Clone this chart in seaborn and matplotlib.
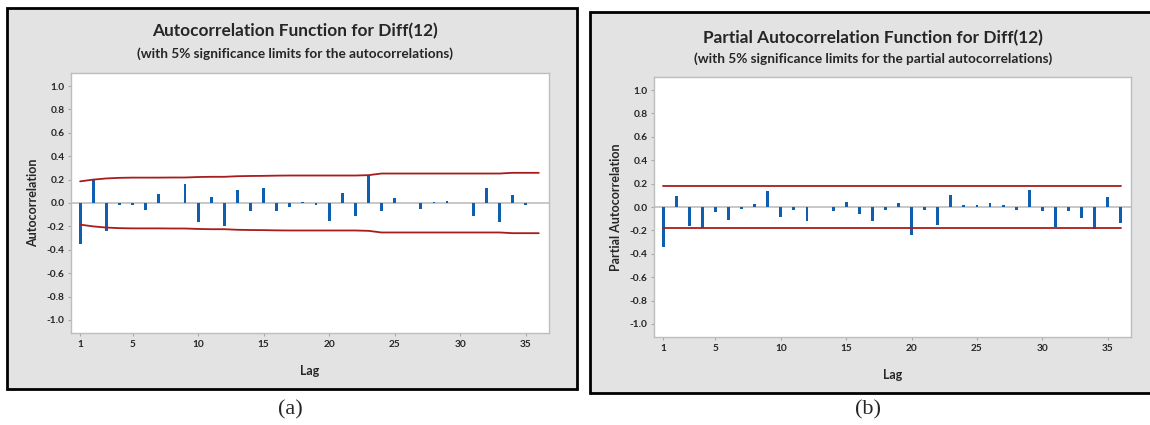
import matplotlib
matplotlib.use("Agg")
import matplotlib.pyplot as plt
from matplotlib.patches import Rectangle
import pandas as pd
import seaborn as sns

lags = list(range(1, 37))
acf = [-0.35, 0.20, -0.24, -0.02, -0.02, -0.06, 0.08, 0.0, 0.16, -0.16,
       0.055, -0.195, 0.115, -0.07, 0.125, -0.07, -0.03, 0.012, -0.02, -0.15,
       0.085, -0.115, 0.24, -0.065, 0.045, 0.0, -0.05, 0.012, 0.02, 0.0,
       -0.115, 0.13, -0.16, 0.065, -0.02, 0.0]
acf_limit = [0.185, 0.20, 0.21, 0.215, 0.217, 0.217, 0.217, 0.218, 0.218, 0.222,
             0.224, 0.224, 0.229, 0.231, 0.232, 0.234, 0.235, 0.235, 0.235, 0.235,
             0.235, 0.235, 0.238, 0.252, 0.252, 0.252, 0.252, 0.252, 0.252, 0.252,
             0.252, 0.252, 0.252, 0.258, 0.258, 0.258]
pacf = [-0.34, 0.09, -0.16, -0.177, -0.045, -0.11, -0.014, 0.025, 0.14, -0.087,
        -0.028, -0.118, 0.0, -0.037, 0.042, -0.062, -0.118, -0.023, 0.03, -0.242,
        -0.023, -0.155, 0.099, 0.017, 0.017, 0.031, 0.017, -0.023, 0.146, -0.031,
        -0.169, -0.031, -0.096, -0.186, 0.082, -0.135]
pacf_limit = 0.18

x_ticks = [1, 5, 10, 15, 20, 25, 30, 35]
y_ticks = [-1.0, -0.8, -0.6, -0.4, -0.2, 0.0, 0.2, 0.4, 0.6, 0.8, 1.0]

sns.set_style("white")
plt.rcParams['font.family'] = ['Lato', 'DejaVu Sans']
plt.rcParams['axes.unicode_minus'] = False

W, H = 1150, 425
fig = plt.figure(figsize=(11.5, 4.25), dpi=100)
fig.patch.set_facecolor('white')


def px(x0, y0, x1, y1):
    # pixel box (top-left origin) -> figure fraction
    return [x0 / W, 1 - y1 / H, (x1 - x0) / W, (y1 - y0) / H]


# grey panels with black frame
for box in [px(6.7, 8.3, 576.7, 388.7), px(590.3, 12.3, 1160, 392.5)]:
    fig.patches.append(Rectangle((box[0], box[1]), box[2], box[3], transform=fig.transFigure,
                                 facecolor='#e3e3e3', edgecolor='black', linewidth=2, zorder=-5))

ax1 = fig.add_axes(px(70.7, 72.7, 549, 333.3))
ax2 = fig.add_axes(px(653.7, 76.7, 1131, 337.3))

df1 = pd.DataFrame({'lag': lags, 'value': acf, 'upper': acf_limit,
                    'lower': [-v for v in acf_limit]})
df2 = pd.DataFrame({'lag': lags, 'value': pacf, 'upper': pacf_limit, 'lower': -pacf_limit})

panels = [
    (ax1, df1, 'Autocorrelation', 'Autocorrelation Function for Diff(12)',
     '(with 5% significance limits for the autocorrelations)', 295, 31, 54, '(a)', 290),
    (ax2, df2, 'Partial Autocorrelation', 'Partial Autocorrelation Function for Diff(12)',
     '(with 5% significance limits for the partial autocorrelations)', 873, 38, 59, '(b)', 868),
]

for ax, df, ylab, title, sub, tx, ty1, ty2, cap, cx in panels:
    ax.set_zorder(2)
    ax.set_facecolor('white')
    ax.axhline(0, color='#c4c4c4', linewidth=1.3, zorder=1)
    sns.barplot(data=df, x='lag', y='value', native_scale=True, width=0.22,
                color='#0f5fb0', saturation=1, linewidth=0, errorbar=None, ax=ax, zorder=2)
    sns.lineplot(data=df, x='lag', y='upper', color='#a81c1c', linewidth=1.3, ax=ax, zorder=3)
    sns.lineplot(data=df, x='lag', y='lower', color='#a81c1c', linewidth=1.3, ax=ax, zorder=3)
    ax.set_xlim(0.28, 36.78)
    ax.set_ylim(-1.114, 1.114)
    ax.set_xticks(x_ticks)
    ax.set_xticklabels([str(t) for t in x_ticks])
    ax.set_yticks(y_ticks)
    ax.set_yticklabels([f'{t:.1f}' for t in y_ticks])
    ax.tick_params(axis='both', length=2.5, width=0.8, color='#a8a8a8', pad=2,
                   labelsize=7.3, direction='out', bottom=True, left=True)
    for lab in ax.get_xticklabels() + ax.get_yticklabels():
        lab.set_fontweight('bold')
    for s in ax.spines.values():
        s.set_color('#bdbdbd')
        s.set_linewidth(1.0)
    ax.set_xlabel('Lag', fontsize=9, fontweight='bold')
    ax.set_ylabel(ylab, fontsize=9, fontweight='bold')
    ax.xaxis.set_label_coords(0.5, -0.12)
    ax.yaxis.set_label_coords(-0.079, 0.5)
    ax.yaxis.label.set_va('center')

    fig.text(tx / W, 1 - ty1 / H, title, ha='center', va='center', fontsize=12.4, fontweight='bold')
    fig.text(tx / W, 1 - ty2 / H, sub, ha='center', va='center', fontsize=9.8, fontweight='bold')
    fig.text(cx / W, 1 - 410 / H, cap, ha='center', va='center', fontsize=16,
             family=['Liberation Serif', 'DejaVu Serif'])

fig.savefig('out.png', dpi=100)
